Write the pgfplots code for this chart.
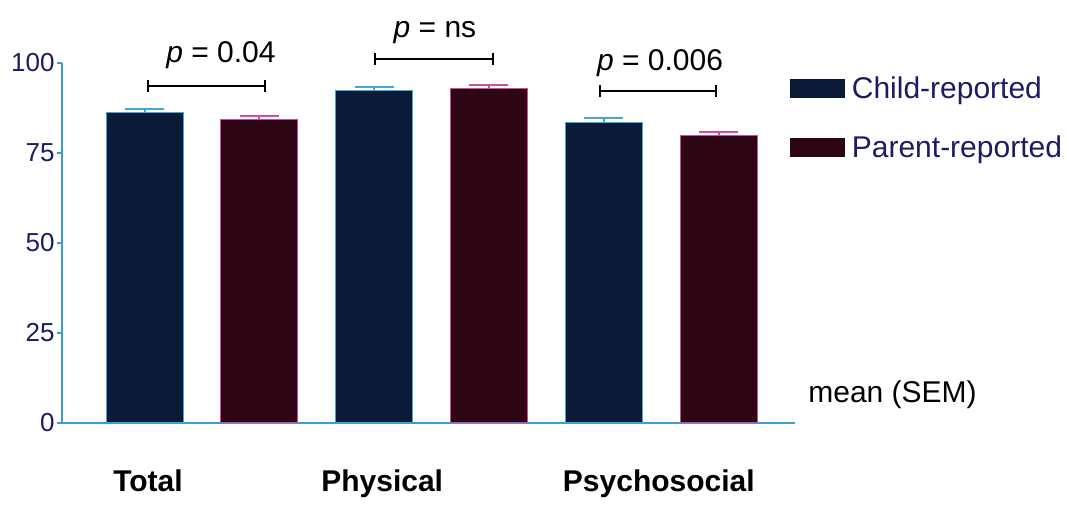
\documentclass[border=0pt]{standalone}
\usepackage{fontspec}
\setmainfont{Liberation Sans}
\usepackage{pgfplots}
\pgfplotsset{compat=1.18}
\usetikzlibrary{arrows.meta}

\definecolor{childfill}{HTML}{0B1A36}
\definecolor{childedge}{HTML}{3FA8D8}
\definecolor{parentfill}{HTML}{2E0613}
\definecolor{parentedge}{HTML}{D24C9E}
\definecolor{axisblue}{HTML}{3A9FCB}
\definecolor{ticknavy}{HTML}{1C1C66}

\begin{document}
\begin{tikzpicture}
\begin{axis}[
  name=ax,
  scale only axis, width=366.5pt, height=180pt,
  xmin=-0.719, xmax=5.666, ymin=0, ymax=100,
  axis x line*=bottom, axis y line*=left,
  axis line style={axisblue, line width=1pt, -},
  xtick=\empty,
  ytick={0,25,50,75,100},
  tick align=outside, major tick length=2.5pt,
  tick style={axisblue, line width=0.8pt},
  yticklabel style={font=\fontsize{13}{15}\selectfont, text=ticknavy, inner xsep=1pt},
  /pgf/number format/assume math mode=true,
  clip=false,
  ybar, bar width=0.67, bar shift=0pt,
  legend style={at={(rel axis cs:0.993,0.961)}, anchor=north west,
    draw=none, fill=none, inner sep=0pt, outer sep=0pt,
    row sep=17pt, column sep=3.5pt,
    font=\fontsize{15}{18}\selectfont, text=ticknavy,
    nodes={inner sep=0pt}},
  legend cell align=left,
  legend image code/.code={\path[#1, draw=none] (0pt,-4.5pt) rectangle (27.5pt,5pt);},
]
% child-reported scores, mean with SEM
\addplot[fill=childfill, draw=childedge, line width=0.5pt,
  error bars/.cd, y dir=plus, y explicit,
  error bar style={childedge, line width=1pt},
  error mark options={rotate=90, childedge, line width=1pt, mark size=9.75pt}]
  coordinates {(0,86.3) +- (0,0.9) (2,92.3) +- (0,0.95) (4,83.5) +- (0,1.1)};
\addlegendentry{Child-reported}
% parent-reported scores, mean with SEM
\addplot[fill=parentfill, draw=parentedge, line width=0.5pt,
  error bars/.cd, y dir=plus, y explicit,
  error bar style={parentedge, line width=1pt},
  error mark options={rotate=90, parentedge, line width=1pt, mark size=9.75pt}]
  coordinates {(1,84.4) +- (0,1.0) (3,93.0) +- (0,0.9) (5,79.8) +- (0,1.1)};
\addlegendentry{Parent-reported}

% significance brackets
\draw[black, line width=1pt, {Bar[width=6pt,line width=1pt]}-{Bar[width=6pt,line width=1pt]}]
  (axis cs:0.02,93.6) -- (axis cs:1.06,93.6);
\draw[black, line width=1pt, {Bar[width=6pt,line width=1pt]}-{Bar[width=6pt,line width=1pt]}]
  (axis cs:2.0,101.1) -- (axis cs:3.04,101.1);
\draw[black, line width=1pt, {Bar[width=6pt,line width=1pt]}-{Bar[width=6pt,line width=1pt]}]
  (axis cs:3.96,92.2) -- (axis cs:4.99,92.2);
\node[anchor=base, font=\fontsize{15}{18}\selectfont] at (axis cs:0.666,100.0) {\textit{p} = 0.04};
\node[anchor=base, font=\fontsize{15}{18}\selectfont] at (axis cs:2.53,107.2) {\textit{p} = ns};
\node[anchor=base, font=\fontsize{15}{18}\selectfont] at (axis cs:4.49,97.8) {\textit{p} = 0.006};

% category labels
\node[anchor=base, yshift=-34.5pt, font=\bfseries\fontsize{15}{18}\selectfont] at (axis cs:0.03,0) {Total};
\node[anchor=base, yshift=-34.5pt, font=\bfseries\fontsize{15}{18}\selectfont] at (axis cs:2.07,0) {Physical};
\node[anchor=base, yshift=-34.5pt, font=\bfseries\fontsize{15}{18}\selectfont] at (axis cs:4.48,0) {Psychosocial};

\node[anchor=base west, inner sep=0pt, font=\fontsize{15}{18}\selectfont] at (rel axis cs:1.0177,0.056) {mean (SEM)};
\end{axis}
\path ([xshift=-31pt,yshift=-38.5pt]ax.south west) rectangle ([xshift=135.5pt,yshift=31.5pt]ax.north east);
\end{tikzpicture}
\end{document}
